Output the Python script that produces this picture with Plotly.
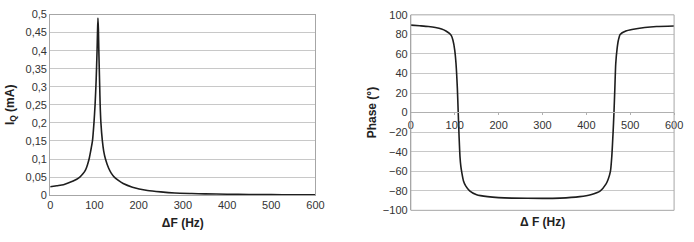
import plotly.graph_objects as go

# ---- data: quadrature current vs frequency offset ----
freq_iq = [0, 15, 30, 42, 52, 60, 67, 74, 80, 84, 88, 92, 95.6, 99, 101.5, 104, 106, 107,
           108, 109, 110, 112, 113, 114.7, 118, 121, 125, 132, 138, 145, 155, 165, 186,
           220, 250, 282, 320, 350, 400, 450, 500, 550, 600]
iq_ma = [0.023, 0.026, 0.029, 0.034, 0.039, 0.044, 0.05, 0.059, 0.07, 0.083, 0.1, 0.125,
         0.15, 0.2, 0.25, 0.32, 0.40, 0.45, 0.49, 0.46, 0.40, 0.30, 0.25, 0.2, 0.15, 0.122,
         0.1, 0.075, 0.061, 0.05, 0.04, 0.032, 0.022, 0.013, 0.009, 0.006, 0.0045, 0.0035,
         0.0025, 0.0018, 0.0013, 0.001, 0.0008]

# ---- data: phase vs frequency offset ----
freq_ph = [0, 20, 40, 56, 70, 80, 88, 92, 96, 100, 103, 106, 108, 110, 112, 114, 116, 120,
           125, 134, 150, 175, 200, 230, 300, 340, 385, 410, 432, 445, 450, 455, 458, 461,
           463, 465, 467, 470, 473, 477, 490, 504, 533, 560, 600]
phase_deg = [89.5, 88.8, 88, 87, 85.5, 83.5, 81, 79, 74, 64, 50, 25, 0, -25, -45, -55, -61,
             -70, -75, -80, -84, -86, -87, -87.5, -87.8, -87.5, -86, -84, -80, -73, -68, -60,
             -45, -20, 0, 25, 50, 65, 74, 80, 83.5, 85, 87, 88, 88.5]

iq_ticks = [0, 0.05, 0.1, 0.15, 0.2, 0.25, 0.3, 0.35, 0.4, 0.45, 0.5]
iq_ticktext = ["0", "0,05", "0,1", "0,15", "0,2", "0,25", "0,3", "0,35", "0,4", "0,45", "0,5"]
freq_ticks = [0, 100, 200, 300, 400, 500, 600]
phase_ticks = [-100, -80, -60, -40, -20, 0, 20, 40, 60, 80, 100]

FONT = "Liberation Sans, Arial, sans-serif"
GRID = "#c8c8c8"
FRAME = "#a6a6a6"
LINE = "#1e1e1e"

fig = go.Figure()
fig.add_trace(go.Scatter(x=freq_iq, y=iq_ma, mode="lines", xaxis="x", yaxis="y",
                         line=dict(color=LINE, width=1.6, shape="spline", smoothing=0.6),
                         showlegend=False))
fig.add_trace(go.Scatter(x=freq_ph, y=phase_deg, mode="lines", xaxis="x2", yaxis="y2",
                         line=dict(color=LINE, width=1.6, shape="spline", smoothing=0.6),
                         showlegend=False))

tickfont = dict(family=FONT, size=11, color="#333333")
titlefont = dict(family=FONT, size=12, color="#222222")

fig.update_layout(
    width=694, height=242,
    margin=dict(l=0, r=0, t=0, b=0),
    paper_bgcolor="white", plot_bgcolor="white",
    xaxis=dict(domain=[0.0692, 0.4582], anchor="y", range=[0, 600], tickvals=freq_ticks,
               showgrid=False, zeroline=False, showline=True, mirror=True,
               linecolor=FRAME, linewidth=1, ticks="", tickfont=tickfont,
               title=dict(text="<b>ΔF (Hz)</b>", font=titlefont, standoff=8)),
    yaxis=dict(domain=[0.1777, 0.9628], anchor="x", range=[0, 0.5], tickvals=iq_ticks,
               ticktext=iq_ticktext, showgrid=True, gridcolor=GRID, gridwidth=1,
               zeroline=False, showline=True, mirror=True, linecolor=FRAME, linewidth=1,
               ticks="", tickfont=tickfont,
               title=dict(text="<b>I<sub>Q</sub> (mA)</b>", font=titlefont, standoff=8)),
    xaxis2=dict(domain=[0.598, 0.984], anchor="free", position=0.537, range=[0, 600],
                tickvals=freq_ticks, showgrid=False, zeroline=False, showline=True,
                linecolor="#b0b0b0", linewidth=1, ticks="outside", ticklen=2,
                tickcolor="#b0b0b0", tickfont=tickfont),
    yaxis2=dict(domain=[0.1116, 0.9616], anchor="x2", range=[-100, 100], tickvals=phase_ticks,
                showgrid=True, gridcolor=GRID, gridwidth=1, zeroline=False, showline=True,
                linecolor=FRAME, linewidth=1, ticks="", tickfont=tickfont,
                title=dict(text="<b>Phase (°)</b>", font=titlefont, standoff=3)),
    shapes=[dict(type="rect", xref="x2 domain", yref="y2 domain", x0=0, x1=1, y0=0, y1=1,
                 line=dict(color=FRAME, width=1), layer="above")],
    annotations=[dict(text="<b>Δ F (Hz)</b>", xref="x2 domain", yref="paper", x=0.5,
                      y=1 - 227 / 242, showarrow=False, font=titlefont,
                      xanchor="center", yanchor="middle")],
)

fig.write_html("out.html")
